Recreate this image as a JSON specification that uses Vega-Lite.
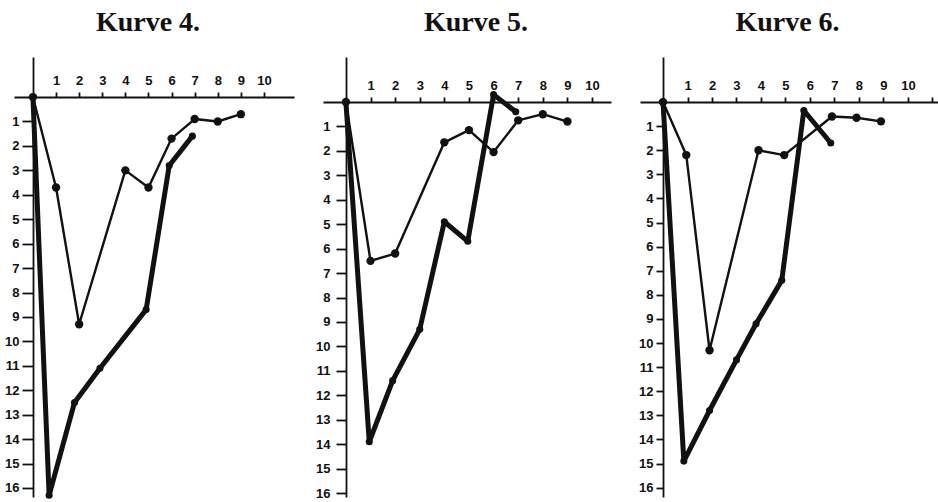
{
  "$schema": "https://vega.github.io/schema/vega-lite/v6.json",
  "background": "white",
  "padding": {"left": 4, "top": 9, "right": 0, "bottom": 0},
  "data": {
    "values": [
      {"kurve": "Kurve 4.", "linie": "dünn", "n": 0, "tag": 0, "wert": 0},
      {"kurve": "Kurve 4.", "linie": "dünn", "n": 1, "tag": 1, "wert": 3.7},
      {"kurve": "Kurve 4.", "linie": "dünn", "n": 2, "tag": 2, "wert": 9.3},
      {"kurve": "Kurve 4.", "linie": "dünn", "n": 3, "tag": 4, "wert": 3.0},
      {"kurve": "Kurve 4.", "linie": "dünn", "n": 4, "tag": 5, "wert": 3.7},
      {"kurve": "Kurve 4.", "linie": "dünn", "n": 5, "tag": 6, "wert": 1.7},
      {"kurve": "Kurve 4.", "linie": "dünn", "n": 6, "tag": 7, "wert": 0.9},
      {"kurve": "Kurve 4.", "linie": "dünn", "n": 7, "tag": 8, "wert": 1.0},
      {"kurve": "Kurve 4.", "linie": "dünn", "n": 8, "tag": 9, "wert": 0.7},
      {"kurve": "Kurve 4.", "linie": "dick", "n": 0, "tag": 0, "wert": 0},
      {"kurve": "Kurve 4.", "linie": "dick", "n": 1, "tag": 0.7, "wert": 16.3},
      {"kurve": "Kurve 4.", "linie": "dick", "n": 2, "tag": 1.8, "wert": 12.5},
      {"kurve": "Kurve 4.", "linie": "dick", "n": 3, "tag": 2.9, "wert": 11.1},
      {"kurve": "Kurve 4.", "linie": "dick", "n": 4, "tag": 4.9, "wert": 8.7},
      {"kurve": "Kurve 4.", "linie": "dick", "n": 5, "tag": 5.9, "wert": 2.8},
      {"kurve": "Kurve 4.", "linie": "dick", "n": 6, "tag": 6.9, "wert": 1.6},
      {"kurve": "Kurve 5.", "linie": "dünn", "n": 0, "tag": 0, "wert": 0},
      {"kurve": "Kurve 5.", "linie": "dünn", "n": 1, "tag": 1, "wert": 6.5},
      {"kurve": "Kurve 5.", "linie": "dünn", "n": 2, "tag": 2, "wert": 6.2},
      {"kurve": "Kurve 5.", "linie": "dünn", "n": 3, "tag": 4, "wert": 1.65},
      {"kurve": "Kurve 5.", "linie": "dünn", "n": 4, "tag": 5, "wert": 1.15},
      {"kurve": "Kurve 5.", "linie": "dünn", "n": 5, "tag": 6, "wert": 2.05},
      {"kurve": "Kurve 5.", "linie": "dünn", "n": 6, "tag": 7, "wert": 0.75},
      {"kurve": "Kurve 5.", "linie": "dünn", "n": 7, "tag": 8, "wert": 0.5},
      {"kurve": "Kurve 5.", "linie": "dünn", "n": 8, "tag": 9, "wert": 0.8},
      {"kurve": "Kurve 5.", "linie": "dick", "n": 0, "tag": 0, "wert": 0},
      {"kurve": "Kurve 5.", "linie": "dick", "n": 1, "tag": 0.95, "wert": 13.9},
      {"kurve": "Kurve 5.", "linie": "dick", "n": 2, "tag": 1.9, "wert": 11.4},
      {"kurve": "Kurve 5.", "linie": "dick", "n": 3, "tag": 3, "wert": 9.3},
      {"kurve": "Kurve 5.", "linie": "dick", "n": 4, "tag": 4, "wert": 4.9},
      {"kurve": "Kurve 5.", "linie": "dick", "n": 5, "tag": 4.95, "wert": 5.7},
      {"kurve": "Kurve 5.", "linie": "dick", "n": 6, "tag": 6, "wert": -0.3},
      {"kurve": "Kurve 5.", "linie": "dick", "n": 7, "tag": 6.9, "wert": 0.4},
      {"kurve": "Kurve 6.", "linie": "dünn", "n": 0, "tag": 0, "wert": 0},
      {"kurve": "Kurve 6.", "linie": "dünn", "n": 1, "tag": 0.95, "wert": 2.2},
      {"kurve": "Kurve 6.", "linie": "dünn", "n": 2, "tag": 1.9, "wert": 10.3},
      {"kurve": "Kurve 6.", "linie": "dünn", "n": 3, "tag": 3.9, "wert": 2.0},
      {"kurve": "Kurve 6.", "linie": "dünn", "n": 4, "tag": 4.95, "wert": 2.2},
      {"kurve": "Kurve 6.", "linie": "dünn", "n": 5, "tag": 6.9, "wert": 0.6},
      {"kurve": "Kurve 6.", "linie": "dünn", "n": 6, "tag": 7.9, "wert": 0.65},
      {"kurve": "Kurve 6.", "linie": "dünn", "n": 7, "tag": 8.9, "wert": 0.8},
      {"kurve": "Kurve 6.", "linie": "dick", "n": 0, "tag": 0, "wert": 0},
      {"kurve": "Kurve 6.", "linie": "dick", "n": 1, "tag": 0.85, "wert": 14.9},
      {"kurve": "Kurve 6.", "linie": "dick", "n": 2, "tag": 1.9, "wert": 12.8},
      {"kurve": "Kurve 6.", "linie": "dick", "n": 3, "tag": 3, "wert": 10.7},
      {"kurve": "Kurve 6.", "linie": "dick", "n": 4, "tag": 3.8, "wert": 9.2},
      {"kurve": "Kurve 6.", "linie": "dick", "n": 5, "tag": 4.85, "wert": 7.4},
      {"kurve": "Kurve 6.", "linie": "dick", "n": 6, "tag": 5.75, "wert": 0.35},
      {"kurve": "Kurve 6.", "linie": "dick", "n": 7, "tag": 6.85, "wert": 1.7}
    ]
  },
  "spacing": 29,
  "bounds": "flush",
  "hconcat": [
    {
      "title": {"text": "Kurve 4.", "dx": -6},
      "width": 280,
      "height": 440,
      "transform": [{"filter": "datum.kurve == 'Kurve 4.'"}],
      "encoding": {
        "x": {"field": "tag", "type": "quantitative",
              "scale": {"domain": [-0.82, 11.3], "nice": false, "zero": false},
              "axis": {"orient": "top", "offset": -40, "values": [1, 2, 3, 4, 5, 6, 7, 8, 9, 10], "tickSize": 5, "labelPadding": 5}},
        "y": {"field": "wert", "type": "quantitative",
              "scale": {"domain": [-1.64, 16.37], "nice": false, "zero": false, "reverse": true},
              "axis": {"orient": "left", "offset": -19, "values": [1, 2, 3, 4, 5, 6, 7, 8, 9, 10, 11, 12, 13, 14, 15, 16], "tickSize": 11, "labelPadding": 3}},
        "order": {"field": "n", "type": "quantitative"}
      },
      "layer": [
        {"mark": {"type": "line", "color": "#111", "strokeJoin": "round", "strokeCap": "round"},
         "encoding": {"strokeWidth": {"field": "linie", "type": "nominal", "scale": {"domain": ["dünn", "dick"], "range": [2.4, 5]}, "legend": null}}},
        {"mark": {"type": "point", "filled": true, "color": "#111", "opacity": 1},
         "encoding": {"size": {"field": "linie", "type": "nominal", "scale": {"domain": ["dünn", "dick"], "range": [70, 50]}, "legend": null}}}
      ]
    },
    {
      "title": {"text": "Kurve 5.", "dx": 9},
      "width": 288,
      "height": 440,
      "transform": [{"filter": "datum.kurve == 'Kurve 5.'"}],
      "encoding": {
        "x": {"field": "tag", "type": "quantitative",
              "scale": {"domain": [-0.93, 10.77], "nice": false, "zero": false},
              "axis": {"orient": "top", "offset": -45, "values": [1, 2, 3, 4, 5, 6, 7, 8, 9, 10], "tickSize": 5, "labelPadding": 5}},
        "y": {"field": "wert", "type": "quantitative",
              "scale": {"domain": [-1.84, 16.16], "nice": false, "zero": false, "reverse": true},
              "axis": {"orient": "left", "offset": -23, "values": [1, 2, 3, 4, 5, 6, 7, 8, 9, 10, 11, 12, 13, 14, 15, 16], "tickSize": 10, "labelPadding": 6}},
        "order": {"field": "n", "type": "quantitative"}
      },
      "layer": [
        {"mark": {"type": "line", "color": "#111", "strokeJoin": "round", "strokeCap": "round"},
         "encoding": {"strokeWidth": {"field": "linie", "type": "nominal", "scale": {"domain": ["dünn", "dick"], "range": [2.4, 5]}, "legend": null}}},
        {"mark": {"type": "point", "filled": true, "color": "#111", "opacity": 1},
         "encoding": {"size": {"field": "linie", "type": "nominal", "scale": {"domain": ["dünn", "dick"], "range": [70, 50]}, "legend": null}}}
      ]
    },
    {
      "title": {"text": "Kurve 6.", "dx": -2},
      "width": 299,
      "height": 440,
      "transform": [{"filter": "datum.kurve == 'Kurve 6.'"}],
      "encoding": {
        "x": {"field": "tag", "type": "quantitative",
              "scale": {"domain": [-0.94, 11.27], "nice": false, "zero": false},
              "axis": {"orient": "top", "offset": -45, "values": [1, 2, 3, 4, 5, 6, 7, 8, 9, 10, 11], "labelExpr": "datum.value > 10 ? '' : datum.label", "tickSize": 5, "labelPadding": 5}},
        "y": {"field": "wert", "type": "quantitative",
              "scale": {"domain": [-1.87, 16.39], "nice": false, "zero": false, "reverse": true},
              "axis": {"orient": "left", "offset": -23, "values": [1, 2, 3, 4, 5, 6, 7, 8, 9, 10, 11, 12, 13, 14, 15, 16], "tickSize": 7, "labelPadding": 3}},
        "order": {"field": "n", "type": "quantitative"}
      },
      "layer": [
        {"mark": {"type": "line", "color": "#111", "strokeJoin": "round", "strokeCap": "round"},
         "encoding": {"strokeWidth": {"field": "linie", "type": "nominal", "scale": {"domain": ["dünn", "dick"], "range": [2.4, 5]}, "legend": null}}},
        {"mark": {"type": "point", "filled": true, "color": "#111", "opacity": 1},
         "encoding": {"size": {"field": "linie", "type": "nominal", "scale": {"domain": ["dünn", "dick"], "range": [70, 50]}, "legend": null}}}
      ]
    }
  ],
  "config": {
    "view": {"stroke": null},
    "axis": {
      "grid": false,
      "title": null,
      "domainColor": "#111",
      "domainWidth": 1.8,
      "tickColor": "#111",
      "tickWidth": 1.8,
      "labelColor": "#111",
      "labelFont": "Liberation Sans",
      "labelFontWeight": "bold",
      "labelFontSize": 13
    },
    "title": {
      "font": "Liberation Serif",
      "fontSize": 28,
      "fontWeight": "bold",
      "color": "#111",
      "anchor": "middle",
      "offset": 20
    }
  }
}
